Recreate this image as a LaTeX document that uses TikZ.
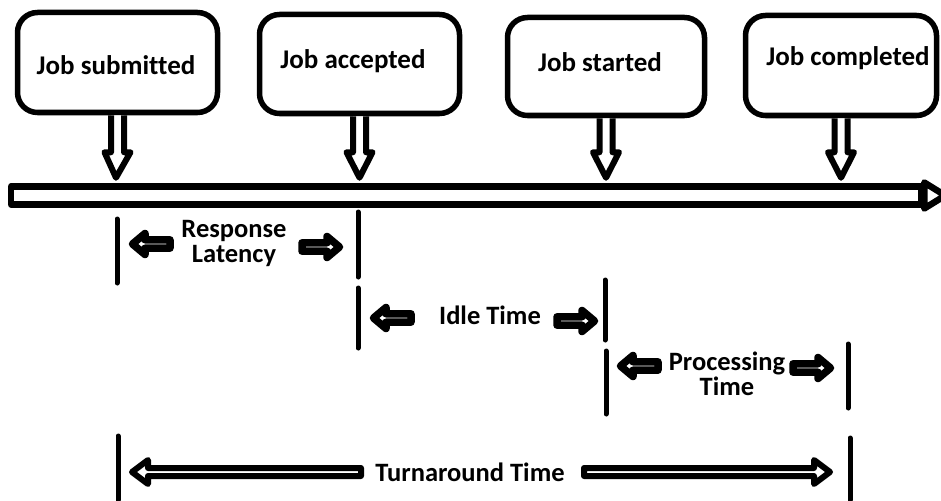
\documentclass[tikz,border=0pt]{standalone}
\usepackage{fontspec}
\setmainfont{Carlito}[Ligatures=NoCommon]
\usetikzlibrary{calc}
\begin{document}
\begin{tikzpicture}[x=1pt,y=-1pt,
  jobbox/.style={draw, line width=5.5pt, rounded corners=20pt, inner sep=0pt},
  jobtext/.style={font=\bfseries\fontsize{27}{30}\selectfont, inner sep=0pt},
  lbl/.style={font=\bfseries\fontsize{26.5}{25}\selectfont, inner sep=0pt, align=center},
  hollowdown/.style={line width=6pt, line join=round, fill=white,
    to path={let \p1=(\tikztostart), \p2=(\tikztotarget) in
      (\x1-6.5pt,\y1) -- (\x1-6.5pt,\y2+31pt) -- (\x1-13pt,\y2+31pt) -- (\x2,\y2+5.5pt)
      -- (\x1+13pt,\y2+31pt) -- (\x1+6.5pt,\y2+31pt) -- (\x1+6.5pt,\y1)}},
  tlline/.style={draw, line width=6.5pt, line join=round},
  vbar/.style={line width=5pt, line cap=round},
  fat/.style={line width=7.5pt, line join=round, fill=white},
  longarrow/.style={line width=6pt, line join=round, fill=white},
  pics/fatarrow/.style={code={
    \draw[fat] (-3.5,0) -- (-16,-10.5) -- (-16,-4.2) -- (-41,-4.2) -- (-41,4.2) -- (-16,4.2) -- (-16,10.5) -- cycle;}}
]
\useasboundingbox (0,0) rectangle (941,500);

% boxes
\node[jobbox, minimum width=200pt, minimum height=100pt] (b1) at (117.5,62.5) {};
\node[jobbox, minimum width=200pt, minimum height=99pt] (b2) at (359.5,64) {};
\node[jobbox, minimum width=197pt, minimum height=98pt] (b3) at (606,66.5) {};
\node[jobbox, minimum width=191pt, minimum height=100pt] (b4) at (841,65.5) {};
\node[jobtext] (t1) at (116,65) {Job submitted};
\node[jobtext] (t2) at (353,61) {Job accepted};
\node[jobtext] (t3) at (600,62) {Job started};
\node[jobtext] (t4) at (848,58) {Job completed};

% timeline
\node[tlline, minimum width=910pt, minimum height=18pt, inner sep=0pt] (tl) at (466,195.5) {};
\draw[tlline, fill=white] (tl.east) ++(0,-13) -- ++(21,13) -- ++(-21,13) -- cycle;

% event arrows
\draw[hollowdown] (b1.south) to ([xshift=-1.5pt]b1.south |- tl.north);
\draw[hollowdown] (b2.south) to (b2.south |- tl.north);
\draw[hollowdown] (b3.south) to (b3.south |- tl.north);
\draw[hollowdown] (b4.south) to (b4.south |- tl.north);

% interval bars
\draw[vbar] (117,219) -- (117,283);
\draw[vbar] (358,212) -- (358,277);
\draw[vbar] (358,288) -- (358,348);
\draw[vbar] (605,280) -- (605,340);
\draw[vbar] (606,351) -- (606,414);
\draw[vbar] (848,344) -- (848,408);
\draw[vbar] (118,436) -- (118,500);
\draw[vbar] (850,438) -- (850,500);

% Response latency
\pic[xscale=-1] at (129,244) {fatarrow};
\pic at (343,247) {fatarrow};
\node[lbl] (rl) at (234,243) {Response\\Latency};

% Idle time
\pic[xscale=-1] at (370,318) {fatarrow};
\pic at (598,321) {fatarrow};
\node[lbl] (it) at (490,315) {Idle Time};

% Processing time
\pic[xscale=-1] at (617,366) {fatarrow};
\pic at (834,368) {fatarrow};
\node[lbl] (pt) at (727,374) {Processing\\Time};

% Turnaround time
\draw[longarrow] (132,472) -- (148,460) -- (148,468) -- (361,468) -- (361,476) -- (148,476) -- (148,484) -- cycle;
\draw[longarrow] (830,472) -- (814,460) -- (814,468) -- (584,468) -- (584,476) -- (814,476) -- (814,484) -- cycle;
\node[lbl] (tt) at (470,472) {Turnaround Time};
\end{tikzpicture}
\end{document}
